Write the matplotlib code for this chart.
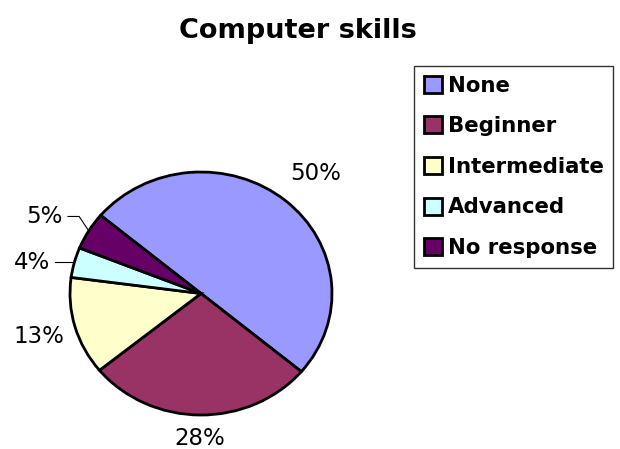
import numpy as np
import matplotlib
matplotlib.use("Agg")
import matplotlib.pyplot as plt
from matplotlib.patches import Patch

categories = ["None", "Beginner", "Intermediate", "Advanced", "No response"]
shares = [50, 28, 13, 4, 5]
colors = ["#9999FF", "#993366", "#FFFFCC", "#CCFFFF", "#660066"]
title = "Computer skills"

W, H = 620, 449
fig = plt.figure(figsize=(W / 100, H / 100), dpi=100)

# pie axes (slightly wider than tall, like an Excel chart area)
left, right, top, bottom = 70, 332, 172, 415
ax = fig.add_axes([left / W, 1 - bottom / H, (right - left) / W, (bottom - top) / H])
start = 140
wedges, _ = ax.pie(shares, colors=colors, startangle=start, counterclock=False,
                   wedgeprops=dict(edgecolor="black", linewidth=2.0))
ax.set_aspect("auto")
ax.set_xlim(-1, 1)
ax.set_ylim(-1, 1)
ax.axis("off")

txt_kw = dict(fontsize=16.5, family="DejaVu Sans", color="black", clip_on=False)
label_radius = {"None": (1.36, 1.29), "Beginner": (1.19, 1.19), "Intermediate": (1.29, 1.29)}

for name, w, v in zip(categories, wedges, shares):
    mid = np.deg2rad((w.theta1 + w.theta2) / 2)
    cx, cy = np.cos(mid), np.sin(mid)
    lab = f"{v}%"
    if name in label_radius:
        rx, ry = label_radius[name]
        ax.text(rx * cx, ry * cy, lab, ha="center", va="center", **txt_kw)
    else:
        # small slices: label to the left with a leader line
        if name == "No response":
            elbow = (-0.93, 0.634)
            end_x = -1.015
            ty = 0.634
        else:
            elbow = (cx, cy)
            end_x = -1.115
            ty = cy
        ax.plot([cx, elbow[0], end_x], [cy, elbow[1], ty], color="black",
                lw=0.8, clip_on=False)
        ax.text(end_x - 0.04, ty, lab, ha="right", va="center", **txt_kw)

fig.text(298 / W, 1 - 31 / H, title, ha="center", va="center",
         fontsize=19.5, fontweight="bold", family="DejaVu Sans")

handles = [Patch(facecolor=c, edgecolor="black", linewidth=2.0) for c in colors]
leg = fig.legend(handles, categories, loc="upper left",
                 bbox_to_anchor=(414 / W, 1 - 66 / H), borderaxespad=0,
                 prop=dict(family="DejaVu Sans", weight="bold", size=15.3),
                 frameon=True, fancybox=False, handlelength=0.85, handleheight=0.85,
                 handletextpad=0.3, labelspacing=0.97, borderpad=0.45)
leg.get_frame().set_edgecolor("black")
leg.get_frame().set_linewidth(1.0)

fig.savefig("out.png", dpi=100)
